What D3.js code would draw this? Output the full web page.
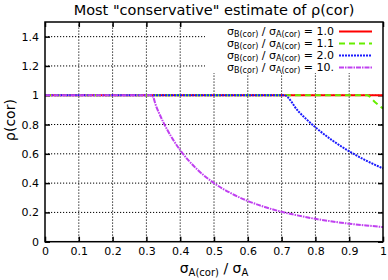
<!DOCTYPE html>
<html><head><meta charset="utf-8">
<script src="https://cdn.jsdelivr.net/npm/d3@7"></script>
<style>body{margin:0;background:#fff}svg{display:block}text{font-family:"DejaVu Sans",sans-serif;fill:#000}</style>
</head><body><svg id="c" width="388" height="280"></svg>
<script>
// Data
const xTicks = [0,0.1,0.2,0.3,0.4,0.5,0.6,0.7,0.8,0.9,1];
const xTickLabels = ["0","0.1","0.2","0.3","0.4","0.5","0.6","0.7","0.8","0.9","1"];
const yTicks = [0,0.2,0.4,0.6,0.8,1,1.2,1.4];
const yTickLabels = ["0","0.2","0.4","0.6","0.8","1","1.2","1.4"];
const ratioLabels = ["1.0","1.1","2.0","10."];
const red_x = [0,1];
const red_y = [1,1];
const green_x = [0,0.953,0.975,1];
const green_y = [1,1,0.956,0.909];
const blue_x = [0,0.707,0.75,0.8,0.85,0.9,0.95,1];
const blue_y = [1,1,0.889,0.781,0.692,0.617,0.554,0.50];
const mag_x = [0,0.316,0.33,0.35,0.375,0.4,0.45,0.5,0.55,0.6,0.65,0.7,0.75,0.8,0.85,0.9,0.95,1];
const mag_y = [1,1,0.918,0.816,0.711,0.625,0.494,0.40,0.331,0.278,0.237,0.204,0.178,0.156,0.138,0.123,0.111,0.10];

const svg = d3.select("#c");
const L=45,R=383,T=22,B=241.7;
const x = d3.scaleLinear().domain([0,1]).range([L,R]);
const y = d3.scaleLinear().domain([0,1.5]).range([B,T]);

// grid
const g = svg.append("g");
xTicks.slice(1,-1).forEach(v=>g.append("line").attr("x1",x(v)).attr("x2",x(v)).attr("y1",B).attr("y2",T)
  .attr("stroke","#000").attr("stroke-width",1).attr("stroke-dasharray","1.2,1.8"));
yTicks.slice(1).forEach(v=>g.append("line").attr("x1",L).attr("x2",R).attr("y1",y(v)).attr("y2",y(v))
  .attr("stroke","#000").attr("stroke-width",1).attr("stroke-dasharray","1.2,1.8"));

// axes with inward ticks, mirrored
const ax = svg.append("g").attr("transform",`translate(0,${B})`)
  .call(d3.axisBottom(x).tickValues(xTicks).tickFormat((d,i)=>xTickLabels[i]).tickSize(-5).tickPadding(6));
const axT = svg.append("g").attr("transform",`translate(0,${T})`)
  .call(d3.axisTop(x).tickValues(xTicks).tickFormat("").tickSize(-5));
const ay = svg.append("g").attr("transform",`translate(${L},0)`)
  .call(d3.axisLeft(y).tickValues(yTicks).tickFormat((d,i)=>yTickLabels[i]).tickSize(-5).tickPadding(6));
const ayR = svg.append("g").attr("transform",`translate(${R},0)`)
  .call(d3.axisRight(y).tickValues(yTicks).tickFormat("").tickSize(-5));
[ax,axT,ay,ayR].forEach(a=>{a.select(".domain").remove();a.selectAll("line").attr("stroke","#000").attr("stroke-width",1.5);
  a.selectAll("text").style("font-family","DejaVu Sans").style("font-size","11px");});

// key background (opaque)
svg.append("rect").attr("x",205).attr("y",T).attr("width",R-205).attr("height",51).attr("fill","#fff");

// curves
const line = d3.line().x(d=>x(d[0])).y(d=>y(d[1])).curve(d3.curveMonotoneX);
const series = [
  {xs:red_x,ys:red_y,c:"#ff0000",dash:null},
  {xs:green_x,ys:green_y,c:"#66ee00",dash:"6,4"},
  {xs:blue_x,ys:blue_y,c:"#1a1aff",dash:"2,1"},
  {xs:mag_x,ys:mag_y,c:"#c040f0",dash:"5,1,1.5,1"}
];
series.forEach(s=>{
  svg.append("path").attr("d",line(s.xs.map((v,i)=>[v,s.ys[i]]))).attr("fill","none")
    .attr("stroke",s.c).attr("stroke-width",2).attr("stroke-dasharray",s.dash);
});

// key
const rowY=[31.5,43.5,55.5,67.5];
series.forEach((s,i)=>{
  const t = svg.append("text").attr("x",334).attr("y",rowY[i]+3.5).attr("text-anchor","end").style("font-size","11px");
  t.append("tspan").text("σ");
  t.append("tspan").attr("dy",1.5).style("font-size","8px").text("B(cor)");
  t.append("tspan").attr("dy",-1.5).text(" / σ");
  t.append("tspan").attr("dy",1.5).style("font-size","8px").text("A(cor)");
  t.append("tspan").attr("dy",-1.5).text(" = "+ratioLabels[i]);
  svg.append("line").attr("x1",339).attr("x2",372).attr("y1",rowY[i]).attr("y2",rowY[i])
    .attr("stroke",s.c).attr("stroke-width",2).attr("stroke-dasharray",s.dash);
});

// border
svg.append("rect").attr("x",L).attr("y",T).attr("width",R-L).attr("height",B-T)
  .attr("fill","none").attr("stroke","#000").attr("stroke-width",1.5);

// title and labels
svg.append("text").attr("x",(L+R)/2).attr("y",15).attr("text-anchor","middle").style("font-size","14.5px")
  .text('Most "conservative" estimate of ρ(cor)');
const xl = svg.append("text").attr("x",(L+R)/2).attr("y",273).attr("text-anchor","middle").style("font-size","14px");
xl.append("tspan").text("σ");
xl.append("tspan").attr("dy",3).style("font-size","10px").text("A(cor)");
xl.append("tspan").attr("dy",-3).text(" / σ");
xl.append("tspan").attr("dy",3).style("font-size","10px").text("A");
svg.append("text").attr("transform","translate(15,120) rotate(-90)").attr("text-anchor","middle").style("font-size","14px")
  .text("ρ(cor)");
</script></body></html>
